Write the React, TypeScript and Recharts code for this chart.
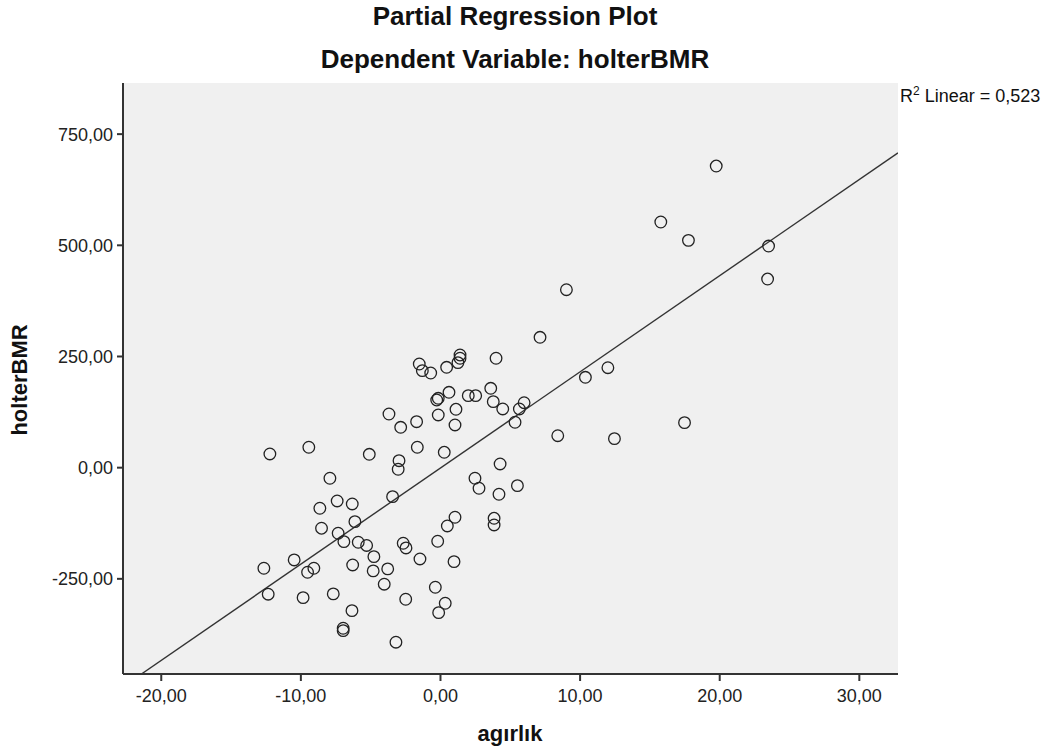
import React from "react";
import {
  ScatterChart,
  Scatter,
  XAxis,
  YAxis,
  CartesianGrid,
  ReferenceLine,
} from "recharts";

// agırlık (partial residuals)
const agirlik = [
  -1.52, -1.3, -0.7, 0.44, 1.4, 1.4, 1.25, 3.98, 0.61, -0.27, -0.16, 1.99, 2.52,
  3.6, 3.78, 4.46, 5.99, 5.65, 5.34, -3.69, -2.85, -1.71, -0.16, 1.11, 1.04,
  -1.66, 0.27, -2.97, -3.03, -3.43, 4.27, 2.47, 2.76, 4.19, 5.51, 1.04, 0.49,
  3.84, 3.84, -0.2, -2.67, -2.47, -12.22, -9.43, -5.1, -7.92, -7.4, -6.32,
  -8.64, -6.13, -8.52, -7.33, -6.92, -5.89, -5.29, -4.77, -1.47, 0.97, -10.48,
  -12.65, -9.52, -9.07, -6.29, -4.82, -3.78, -4.03, -0.37, -12.34, -9.84,
  -7.68, -2.49, -6.34, 0.34, -0.13, -6.97, -6.97, -3.19, 19.75, 15.78, 17.76,
  23.5, 23.43, 9.02, 7.13, 10.38, 11.99, 8.4, 12.46, 17.48,
];

// holterBMR (partial residuals)
const holterBMR = [
  233.1, 218.1, 212.9, 225.7, 253.4, 246.0, 236.1, 246.0, 169.5, 152.2, 156.0,
  161.9, 161.9, 178.5, 148.4, 132.0, 146.1, 132.0, 102.1, 120.7, 90.8, 103.4,
  118.5, 131.3, 96.0, 45.9, 34.6, 15.7, -3.6, -65.2, 8.3, -23.8, -46.3, -59.8,
  -40.5, -111.5, -131.1, -113.8, -128.8, -165.5, -170.0, -180.5, 30.8, 45.9,
  30.1, -23.8, -74.9, -81.6, -91.3, -121.4, -136.2, -147.5, -166.4, -167.7,
  -174.9, -200.1, -205.3, -211.3, -207.5, -226.2, -235.2, -226.2, -218.8,
  -232.2, -227.7, -262.1, -268.9, -284.6, -292.3, -283.9, -295.9, -321.5,
  -304.9, -326.0, -361.1, -366.5, -392.5, 678.3, 552.4, 511.2, 498.4, 424.2,
  400.2, 293.2, 203.2, 224.8, 71.9, 65.2, 101.2,
];

// fit line ends
const fitX = [-21.42, 32.77];
const fitY = [-464, 708];

const xTicks = [-20, -10, 0, 10, 20, 30];
const yTicks = [-250, 0, 250, 500, 750];
const xDomain = [-22.74, 32.77];
const yDomain = [-464, 865];

const data = agirlik.map((x, i) => ({ x, y: holterBMR[i] }));

const fmt = (v: number) => v.toFixed(2).replace(".", ",");

const FONT = '"Liberation Sans", Arial, sans-serif';

const Ring = (props: any) => (
  <circle
    cx={props.cx}
    cy={props.cy}
    r={5.8}
    fill="none"
    stroke="#222"
    strokeWidth={1.3}
  />
);

export default function App() {
  return (
    <div
      style={{
        position: "absolute",
        left: 0,
        top: 0,
        width: 1054,
        height: 754,
        background: "#fff",
        fontFamily: FONT,
      }}
    >
      <div
        style={{
          position: "absolute",
          left: 0,
          width: 1030,
          top: 1,
          textAlign: "center",
          fontSize: 26,
          fontWeight: "bold",
          color: "#111",
        }}
      >
        Partial Regression Plot
      </div>
      <div
        style={{
          position: "absolute",
          left: 0,
          width: 1030,
          top: 44,
          textAlign: "center",
          fontSize: 26,
          fontWeight: "bold",
          color: "#111",
        }}
      >
        Dependent Variable: holterBMR
      </div>

      <ScatterChart
        width={1054}
        height={754}
        margin={{ top: 83, right: 156, bottom: 40, left: 53 }}
      >
        <CartesianGrid
          horizontal={false}
          vertical={false}
          fill="#F0F0F0"
          fillOpacity={1}
        />
        <XAxis
          type="number"
          dataKey="x"
          domain={xDomain}
          ticks={xTicks}
          allowDataOverflow
          tickFormatter={fmt}
          height={40}
          tickSize={7}
          tickMargin={8}
          axisLine={{ stroke: "#333", strokeWidth: 2 }}
          tickLine={{ stroke: "#333", strokeWidth: 2 }}
          tick={{ fontSize: 18, fill: "#222", fontFamily: FONT }}
        />
        <XAxis
          xAxisId="top"
          orientation="top"
          type="number"
          domain={xDomain}
          allowDataOverflow
          height={0}
          tick={false}
          tickLine={false}
          axisLine={{ stroke: "#777", strokeWidth: 1.5 }}
        />
        <YAxis
          type="number"
          dataKey="y"
          domain={yDomain}
          ticks={yTicks}
          allowDataOverflow
          tickFormatter={fmt}
          width={70}
          tickSize={6}
          tickMargin={4}
          axisLine={{ stroke: "#333", strokeWidth: 2 }}
          tickLine={{ stroke: "#333", strokeWidth: 2 }}
          tick={{ fontSize: 18, fill: "#222", fontFamily: FONT }}
        />
        <YAxis
          yAxisId="right"
          orientation="right"
          type="number"
          domain={yDomain}
          allowDataOverflow
          width={0}
          tick={false}
          tickLine={false}
          axisLine={{ stroke: "#777", strokeWidth: 1.5 }}
        />
        <ReferenceLine
          segment={[
            { x: fitX[0], y: fitY[0] },
            { x: fitX[1], y: fitY[1] },
          ]}
          stroke="#333"
          strokeWidth={1.4}
          ifOverflow="hidden"
        />
        <Scatter data={data} shape={Ring} isAnimationActive={false} />
      </ScatterChart>

      <div
        style={{
          position: "absolute",
          left: -36,
          top: 367,
          width: 112,
          textAlign: "center",
          fontSize: 22,
          fontWeight: "bold",
          color: "#111",
          transform: "rotate(-90deg)",
        }}
      >
        holterBMR
      </div>
      <div
        style={{
          position: "absolute",
          left: 410,
          width: 200,
          top: 721,
          textAlign: "center",
          fontSize: 22,
          fontWeight: "bold",
          color: "#111",
        }}
      >
        agırlık
      </div>
      <div
        style={{
          position: "absolute",
          left: 900,
          top: 84,
          fontSize: 18,
          color: "#111",
          whiteSpace: "nowrap",
        }}
      >
        R<sup style={{ fontSize: 12 }}>2</sup> Linear = 0,523
      </div>
    </div>
  );
}
